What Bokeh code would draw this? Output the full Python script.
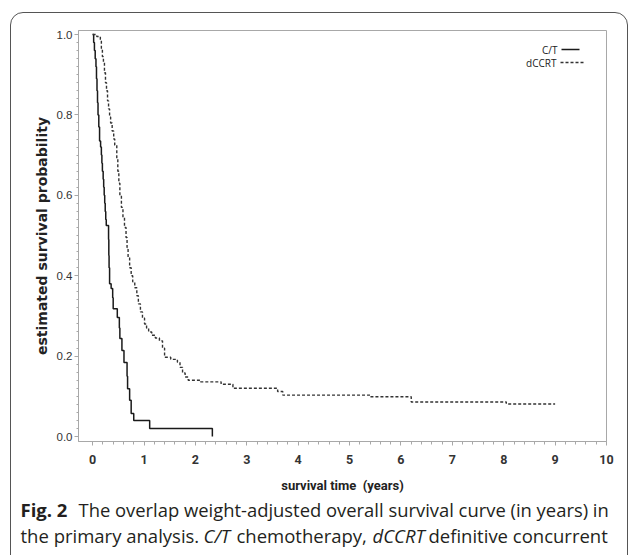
from bokeh.plotting import figure
from bokeh.layouts import column
from bokeh.models import FixedTicker, PrintfTickFormatter, Label, Arrow, Range1d, InlineStyleSheet
from bokeh.embed import file_html
from bokeh.resources import INLINE
import numpy as np

# C/T (solid) weighted KM step data: time (years) -> survival after the step
ct_time = [0.00, 0.02, 0.035, 0.05, 0.065, 0.075, 0.085, 0.095, 0.105, 0.12, 0.135, 0.155,
           0.17, 0.18, 0.19, 0.205, 0.215, 0.225, 0.235, 0.245, 0.255, 0.265, 0.31, 0.315,
           0.32, 0.33, 0.36, 0.39, 0.40, 0.48, 0.52, 0.53, 0.57, 0.61, 0.67, 0.68, 0.72,
           0.75, 0.80, 1.11, 2.33]
ct_surv = [1.00, 0.98, 0.96, 0.94, 0.92, 0.89, 0.86, 0.83, 0.80, 0.77, 0.735, 0.72,
           0.70, 0.68, 0.66, 0.64, 0.62, 0.60, 0.58, 0.56, 0.54, 0.525, 0.49, 0.45,
           0.42, 0.38, 0.368, 0.345, 0.318, 0.296, 0.27, 0.244, 0.214, 0.184, 0.15, 0.119, 0.09,
           0.057, 0.04, 0.02, 0.00]

# dCCRT (dashed)
dc_time = [0.00, 0.08, 0.15, 0.17, 0.19, 0.21, 0.23, 0.25, 0.27, 0.29, 0.31, 0.33, 0.35,
           0.38, 0.41, 0.43, 0.47, 0.49, 0.51, 0.53, 0.56, 0.59, 0.62, 0.65, 0.67, 0.69,
           0.72, 0.75, 0.78, 0.82, 0.86, 0.89, 0.93, 0.97, 1.01, 1.05, 1.09, 1.15, 1.22,
           1.30, 1.36, 1.40, 1.52, 1.65, 1.70, 1.75, 1.80, 1.86, 2.10, 2.50, 2.73, 3.60,
           3.70, 5.40, 6.20, 8.05, 9.00]
dc_surv = [1.00, 0.995, 0.985, 0.965, 0.945, 0.93, 0.905, 0.88, 0.86, 0.835, 0.815, 0.795, 0.78,
           0.76, 0.74, 0.725, 0.69, 0.66, 0.63, 0.60, 0.57, 0.545, 0.52, 0.495, 0.47, 0.445,
           0.42, 0.40, 0.385, 0.37, 0.35, 0.33, 0.31, 0.295, 0.28, 0.27, 0.26, 0.252, 0.245,
           0.238, 0.22, 0.197, 0.192, 0.185, 0.172, 0.158, 0.148, 0.14, 0.136, 0.13, 0.12, 0.112,
           0.103, 0.099, 0.086, 0.081, 0.081]

x_ticks = [0, 1, 2, 3, 4, 5, 6, 7, 8, 9, 10]
y_ticks = [0.0, 0.2, 0.4, 0.6, 0.8, 1.0]
series_names = ["C/T", "dCCRT"]
x_label = "survival time \u00a0(years)"
y_label = "estimated survival probability"

W, H1, H2 = 629, 498, 57
p = figure(width=W, height=H1, output_backend="svg", toolbar_location=None,
           x_range=Range1d(-0.275, 10.0), y_range=Range1d(-0.0124, 1.01),
           min_border_left=78, min_border_right=23, min_border_top=30, min_border_bottom=57)
p.frame_align = False
p.grid.visible = False
p.outline_line_color = "#a8a8a8"
p.outline_line_width = 1
p.background_fill_color = "white"
p.border_fill_color = "white"

p.xaxis.ticker = FixedTicker(ticks=x_ticks, minor_ticks=list(np.round(np.arange(0, 10.01, 0.2), 2)))
p.yaxis.ticker = FixedTicker(ticks=y_ticks, minor_ticks=list(np.round(np.arange(0, 1.001, 0.02), 3)))
p.yaxis.formatter = PrintfTickFormatter(format="%.1f")
p.xaxis.formatter = PrintfTickFormatter(format="%d")

for ax in (p.xaxis[0], p.yaxis[0]):
    ax.axis_line_color = "#a8a8a8"
    ax.major_tick_line_color = "#a8a8a8"
    ax.minor_tick_line_color = "#a8a8a8"
    ax.major_tick_in = 0
    ax.minor_tick_in = 0
    ax.major_tick_out = 4
    ax.minor_tick_out = 3
    ax.major_label_text_color = "#333333"
    ax.axis_label_text_color = "#222222"
    ax.axis_label_text_font_style = "bold"

p.yaxis.major_label_text_font = "Liberation Sans"
p.yaxis.major_label_text_font_size = "11.5px"
p.yaxis.major_label_standoff = 2
p.yaxis.minor_tick_out = 2
p.yaxis.axis_label = y_label
p.yaxis.axis_label_text_font = "DejaVu Sans"
p.yaxis.axis_label_text_font_size = "14px"
p.yaxis.axis_label_standoff = 4

p.xaxis.major_label_text_font = "Roboto"
p.xaxis.major_label_text_font_style = "bold"
p.xaxis.major_label_text_font_size = "12.5px"
p.xaxis.major_label_standoff = 9
p.xaxis.axis_label = x_label
p.xaxis.axis_label_text_font = "Roboto"
p.xaxis.axis_label_text_font_size = "13px"
p.xaxis.axis_label_standoff = 11

p.step(ct_time, ct_surv, mode="after", line_color="#1a1a1a", line_width=1.5)
p.step(dc_time, dc_surv, mode="after", line_color="#333333", line_width=1.4, line_dash="3 2")

# legend (text then sample line, as in the original); "screen" units are frame-relative
leg_font = "Open Sans"
p.add_layout(Label(x=479, y=392, x_units="screen", y_units="screen", text=series_names[0],
                   text_align="right", text_baseline="middle", text_font=leg_font,
                   text_font_size="10px", text_color="#222"))
p.add_layout(Label(x=478, y=379, x_units="screen", y_units="screen", text=series_names[1],
                   text_align="right", text_baseline="middle", text_font=leg_font,
                   text_font_size="10px", text_color="#222"))
p.add_layout(Arrow(end=None, x_start=483, x_end=501, y_start=392, y_end=392,
                   start_units="screen", end_units="screen", line_color="#1a1a1a", line_width=1.3))
p.add_layout(Arrow(end=None, x_start=482, x_end=506, y_start=379, y_end=379,
                   start_units="screen", end_units="screen", line_color="#333", line_width=1.3,
                   line_dash="3 2"))

# caption panel
cap = figure(width=W, height=H2, output_backend="svg", toolbar_location=None,
             x_axis_type=None, y_axis_type=None, x_range=Range1d(0, W), y_range=Range1d(0, H2),
             min_border=0, min_border_left=0, min_border_right=0, min_border_top=0,
             min_border_bottom=0)
cap.frame_align = False
cap.grid.visible = False
cap.outline_line_color = None
cap.background_fill_color = "white"
cap.border_fill_color = "white"

cap_font = "Open Sans"
b1 = 46
b2 = 20
caption = [
    ("Fig. 2", 20, b1, "bold", "18.5px"),
    ("The overlap weight-adjusted overall survival curve (in years) in", 78, b1, "normal", "18.4px"),
    ("the primary analysis.", 20, b2, "normal", "18.5px"),
    ("C/T", 203, b2, "italic", "18.5px"),
    ("chemotherapy,", 236, b2, "normal", "18.5px"),
    ("dCCRT", 372, b2, "italic", "18.5px"),
    ("definitive concurrent", 428, b2, "normal", "18.5px"),
]
for txt, x, y, style, size in caption:
    cap.add_layout(Label(x=x, y=y, x_units="screen", y_units="screen", text=txt,
                         text_font=cap_font, text_font_size=size, text_font_style=style,
                         text_color="#231f20", text_baseline="alphabetic"))

# rounded outer frame of the published figure
box_css = (":host { overflow: hidden; }"
           ":host::after { content: ''; position: absolute; left: 10px; top: %dpx; width: 618px;"
           " height: 900px; border: 1.5px solid #555; border-radius: 13px; box-sizing: border-box;"
           " pointer-events: none; }")
p.stylesheets = [InlineStyleSheet(css=box_css % 12)]
cap.stylesheets = [InlineStyleSheet(css=box_css % -100)]

layout = column(p, cap, spacing=0)
open("out.html", "w").write(file_html(layout, INLINE))
